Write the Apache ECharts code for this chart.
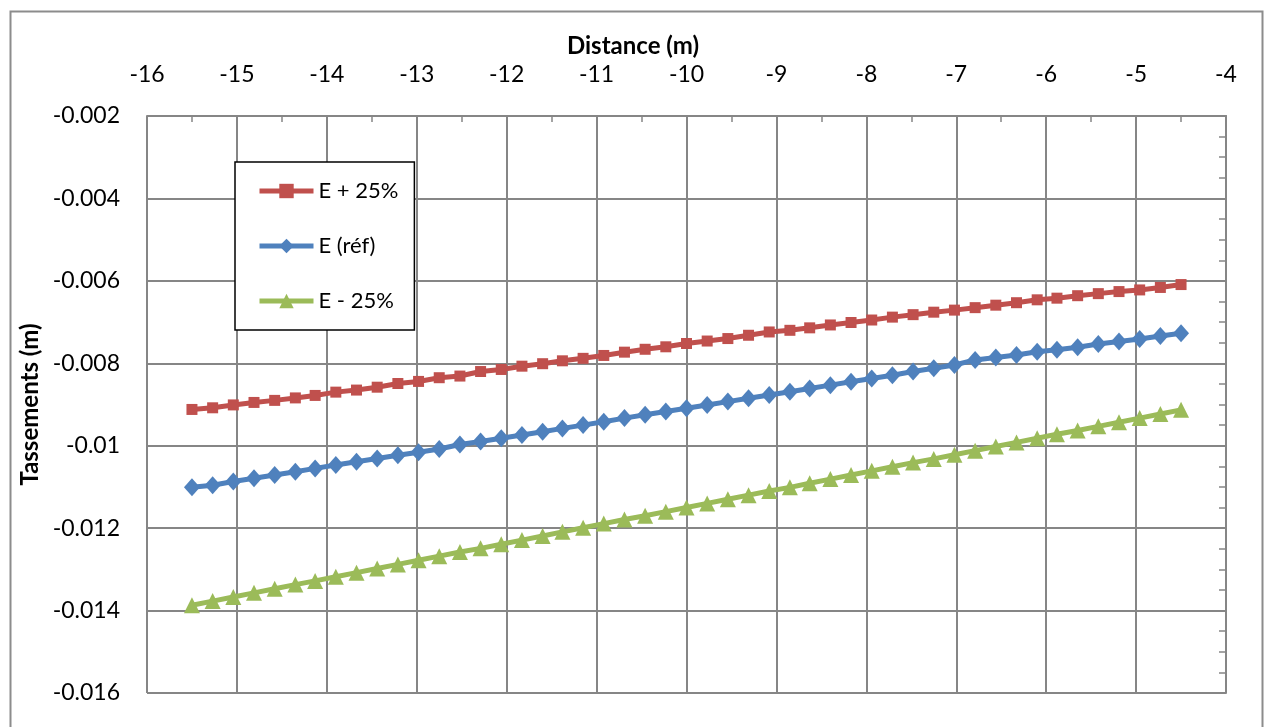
<!DOCTYPE html>
<html>
<head>
<meta charset="utf-8">
<script src="https://cdn.jsdelivr.net/npm/echarts@6/dist/echarts.min.js"></script>
<style>
  html, body { margin: 0; padding: 0; background: #ffffff; }
  #chart { width: 1266px; height: 727px; }
</style>
</head>
<body>
<div id="chart"></div>
<script>
// Distance along the profile (m)
const distance = [
  -15.50, -15.27, -15.04, -14.81, -14.58, -14.35, -14.13, -13.90, -13.67, -13.44,
  -13.21, -12.98, -12.75, -12.52, -12.29, -12.06, -11.83, -11.60, -11.38, -11.15,
  -10.92, -10.69, -10.46, -10.23, -10.00, -9.77, -9.54, -9.31, -9.08, -8.85,
  -8.63, -8.40, -8.17, -7.94, -7.71, -7.48, -7.25, -7.02, -6.79, -6.56,
  -6.33, -6.10, -5.88, -5.65, -5.42, -5.19, -4.96, -4.73, -4.50
];

// Settlements (m) for each stiffness case
const ePlus25 = [
  -0.00912, -0.00908, -0.00901, -0.00895, -0.00890, -0.00884, -0.00878, -0.00870, -0.00865, -0.00858,
  -0.00849, -0.00844, -0.00835, -0.00831, -0.00820, -0.00815, -0.00807, -0.00801, -0.00794, -0.00788,
  -0.00781, -0.00773, -0.00766, -0.00760, -0.00752, -0.00746, -0.00740, -0.00732, -0.00724, -0.00720,
  -0.00714, -0.00707, -0.00701, -0.00695, -0.00688, -0.00682, -0.00676, -0.00671, -0.00665, -0.00659,
  -0.00653, -0.00646, -0.00642, -0.00636, -0.00631, -0.00626, -0.00622, -0.00616, -0.00609
];
const eRef = [
  -0.01101, -0.01096, -0.01087, -0.01079, -0.01071, -0.01063, -0.01055, -0.01047, -0.01039, -0.01031,
  -0.01023, -0.01016, -0.01008, -0.00997, -0.00990, -0.00982, -0.00974, -0.00966, -0.00958, -0.00950,
  -0.00942, -0.00933, -0.00925, -0.00917, -0.00909, -0.00901, -0.00893, -0.00885, -0.00877, -0.00869,
  -0.00861, -0.00853, -0.00845, -0.00837, -0.00829, -0.00820, -0.00812, -0.00804, -0.00792, -0.00786,
  -0.00780, -0.00772, -0.00767, -0.00761, -0.00753, -0.00747, -0.00741, -0.00734, -0.00727
];
const eMinus25 = [
  -0.01387, -0.01377, -0.01367, -0.01357, -0.01347, -0.01337, -0.01328, -0.01318, -0.01308, -0.01298,
  -0.01288, -0.01278, -0.01268, -0.01258, -0.01249, -0.01239, -0.01229, -0.01219, -0.01209, -0.01199,
  -0.01189, -0.01179, -0.01170, -0.01160, -0.01150, -0.01140, -0.01130, -0.01120, -0.01110, -0.01101,
  -0.01091, -0.01081, -0.01071, -0.01061, -0.01051, -0.01041, -0.01032, -0.01022, -0.01012, -0.01002,
  -0.00992, -0.00982, -0.00972, -0.00963, -0.00953, -0.00943, -0.00933, -0.00923, -0.00913
];

const seriesNames = ['E + 25%', 'E (réf)', 'E - 25%'];

// Tick labels
const xTickLabels = ['-16', '-15', '-14', '-13', '-12', '-11', '-10', '-9', '-8', '-7', '-6', '-5', '-4'];
const yTickLabels = ['-0.016', '-0.014', '-0.012', '-0.01', '-0.008', '-0.006', '-0.004', '-0.002'];

const X_MIN = -16, X_MAX = -4, X_STEP = 1;
const Y_MIN = -0.016, Y_MAX = -0.002, Y_STEP = 0.002;

const FONT = 'Lato, "Open Sans", sans-serif';
const GRID_COLOR = '#868686';

function xLabel(v) {
  const i = Math.round((v - X_MIN) / X_STEP);
  return xTickLabels[i] !== undefined ? xTickLabels[i] : '';
}
function yLabel(v) {
  const i = Math.round((v - Y_MIN) / Y_STEP);
  return yTickLabels[i] !== undefined ? yTickLabels[i] : '';
}

function pairs(ys) { return distance.map((x, i) => [x, ys[i]]); }

const chart = echarts.init(document.getElementById('chart'), null, { renderer: 'canvas' });

chart.setOption({
  backgroundColor: '#ffffff',
  animation: false,
  textStyle: { fontFamily: FONT },
  graphic: [{
    type: 'rect',
    left: 8, top: 9,
    shape: { width: 1252, height: 740 },
    style: { fill: 'none', stroke: '#8c8c8c', lineWidth: 2 },
    silent: true, z: -1
  }],
  grid: { left: 147, right: 40, top: 116, bottom: 34, containLabel: false },
  legend: {
    orient: 'vertical',
    left: 235, top: 162,
    padding: [18, 16, 18, 22],
    itemWidth: 54, itemHeight: 18, itemGap: 33,
    borderColor: '#000000', borderWidth: 1.5,
    backgroundColor: '#ffffff',
    lineStyle: { width: 5 },
    textStyle: { fontFamily: FONT, fontSize: 22, color: '#000000' },
    data: seriesNames
  },
  xAxis: {
    type: 'value',
    position: 'top',
    min: X_MIN, max: X_MAX, interval: X_STEP,
    name: 'Distance (m)',
    nameLocation: 'middle',
    nameGap: 49,
    nameTextStyle: { fontFamily: FONT, fontSize: 24, fontWeight: 'bold', color: '#000000', padding: [0, 107, 0, 0] },
    axisLine: { show: true, onZero: false, lineStyle: { color: GRID_COLOR, width: 2 } },
    axisTick: { show: true, inside: true, length: 7, lineStyle: { color: GRID_COLOR, width: 1.5 } },
    minorTick: { show: true, splitNumber: 2, length: 6, lineStyle: { color: GRID_COLOR, width: 1.5 } },
    splitLine: { show: true, lineStyle: { color: GRID_COLOR, width: 2 } },
    axisLabel: { fontFamily: FONT, fontSize: 23, color: '#000000', margin: 30, formatter: xLabel }
  },
  yAxis: [{
    type: 'value',
    position: 'left',
    min: Y_MIN, max: Y_MAX, interval: Y_STEP,
    name: 'Tassements (m)',
    nameLocation: 'middle',
    nameRotate: 90,
    nameGap: 104,
    nameTextStyle: { fontFamily: FONT, fontSize: 24, fontWeight: 'bold', color: '#000000' },
    axisLine: { show: false },
    axisTick: { show: false },
    splitLine: { show: true, lineStyle: { color: GRID_COLOR, width: 2 } },
    axisLabel: { fontFamily: FONT, fontSize: 23, color: '#000000', margin: 27, formatter: yLabel }
  }, {
    type: 'value',
    position: 'right',
    min: Y_MIN, max: Y_MAX, interval: Y_STEP,
    axisLine: { show: true, onZero: false, lineStyle: { color: GRID_COLOR, width: 2 } },
    axisTick: { show: true, inside: true, length: 7, lineStyle: { color: GRID_COLOR, width: 1.5 } },
    minorTick: { show: true, splitNumber: 4, length: 7, lineStyle: { color: GRID_COLOR, width: 1.5 } },
    splitLine: { show: false },
    axisLabel: { show: false }
  }],
  series: [{
    name: seriesNames[0],
    type: 'line',
    data: pairs(ePlus25),
    symbol: 'rect', symbolSize: 11,
    color: '#C0504D',
    lineStyle: { width: 5, color: '#C0504D' },
    itemStyle: { color: '#C0504D' },
    z: 5
  }, {
    name: seriesNames[1],
    type: 'line',
    data: pairs(eRef),
    symbol: 'diamond', symbolSize: [16, 18],
    color: '#4F81BD',
    lineStyle: { width: 5, color: '#4F81BD' },
    itemStyle: { color: '#4F81BD' },
    z: 4
  }, {
    name: seriesNames[2],
    type: 'line',
    data: pairs(eMinus25),
    symbol: 'triangle', symbolSize: 16,
    color: '#9BBB59',
    lineStyle: { width: 5, color: '#9BBB59' },
    itemStyle: { color: '#9BBB59' },
    z: 3
  }]
});
</script>
</body>
</html>
